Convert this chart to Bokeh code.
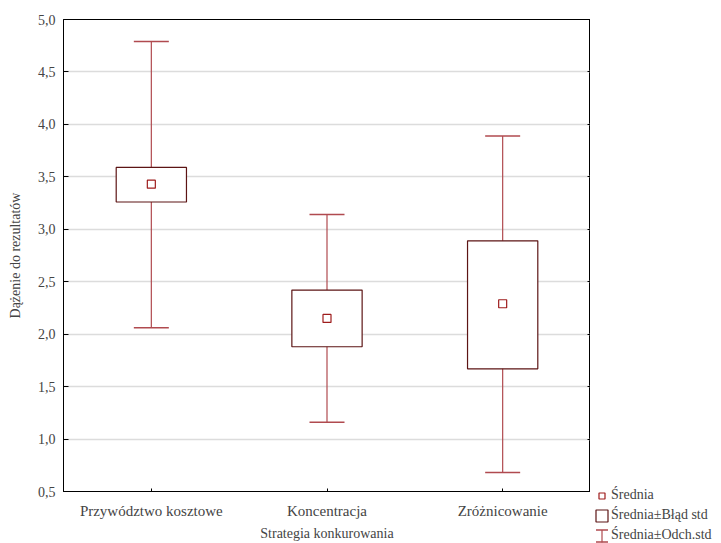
from bokeh.plotting import figure
from bokeh.layouts import row
from bokeh.models import (FactorRange, Range1d, FixedTicker, LinearAxis, Legend,
                          LegendItem, ColumnDataSource, Whisker, TeeHead,
                          CustomJSTickFormatter)
from bokeh.embed import file_html
from bokeh.resources import INLINE

categories = ["Przywództwo kosztowe", "Koncentracja", "Zróżnicowanie"]
means = [3.43, 2.15, 2.29]
se_low = [3.26, 1.88, 1.67]
se_high = [3.59, 2.42, 2.89]
sd_low = [2.06, 1.16, 0.68]
sd_high = [4.79, 3.14, 3.89]

y_ticks = [0.5, 1.0, 1.5, 2.0, 2.5, 3.0, 3.5, 4.0, 4.5, 5.0]
y_tick_labels = ["0,5", "1,0", "1,5", "2,0", "2,5", "3,0", "3,5", "4,0", "4,5", "5,0"]

legend_labels = ["Średnia", "Średnia±Błąd std", "Średnia±Odch.std"]

FONT = "Liberation Serif"
WHISK = "#b04a4f"
BOX = "#5c1414"
MEAN = "#9e1c1c"

src = ColumnDataSource(dict(cat=categories, mean=means, se_low=se_low, se_high=se_high,
                            sd_low=sd_low, sd_high=sd_high))

p = figure(width=590, height=543, x_range=FactorRange(*categories, range_padding=0),
           y_range=Range1d(0.5, 5.0), output_backend="svg", toolbar_location=None,
           min_border_left=63, min_border_right=0, min_border_top=19, min_border_bottom=51)
p.frame_align = False
p.outline_line_color = "black"
p.outline_line_width = 1
p.background_fill_color = "white"
p.border_fill_color = "white"

p.xgrid.grid_line_color = None
p.ygrid.grid_line_color = "#dcdcdc"
p.ygrid.grid_line_width = 1.5

p.yaxis.ticker = FixedTicker(ticks=y_ticks)
p.yaxis.major_label_overrides = dict(zip(y_ticks, y_tick_labels))
p.yaxis.minor_tick_line_color = None
p.yaxis.major_tick_in = 5
p.yaxis.major_tick_out = 0
p.yaxis.major_label_standoff = 8
p.yaxis.axis_label = "Dążenie do rezultatów"
p.yaxis.axis_label_standoff = 12
p.yaxis.axis_label_text_font = FONT
p.yaxis.axis_label_text_font_style = "normal"
p.yaxis.axis_label_text_font_size = "14px"
p.yaxis.major_label_text_font = FONT
p.yaxis.major_label_text_font_size = "14px"
p.yaxis.axis_line_color = "black"

p.xaxis.major_tick_in = 3
p.xaxis.major_tick_out = 0
p.xaxis.major_label_standoff = 11
p.xaxis.axis_label = "Strategia konkurowania"
p.xaxis.axis_label_standoff = 4
p.xaxis.axis_label_text_font = FONT
p.xaxis.axis_label_text_font_style = "normal"
p.xaxis.axis_label_text_font_size = "14px"
p.xaxis.major_label_text_font = FONT
p.xaxis.major_label_text_font_size = "15px"
p.xaxis.axis_line_color = "black"

ra = LinearAxis(ticker=FixedTicker(ticks=y_ticks),
                formatter=CustomJSTickFormatter(code="return ''"),
                major_tick_in=3, major_tick_out=0, minor_tick_line_color=None,
                major_label_standoff=0, axis_line_color="black")
p.add_layout(ra, "right")

wh = Whisker(base="cat", upper="sd_high", lower="sd_low", source=src,
             line_color=WHISK, line_width=1.2, level="underlay",
             upper_head=TeeHead(size=35, line_color=WHISK, line_width=1.5),
             lower_head=TeeHead(size=35, line_color=WHISK, line_width=1.5))
p.add_layout(wh)

box = p.vbar(x="cat", top="se_high", bottom="se_low", width=0.4, source=src,
             fill_color="white", line_color=BOX, line_width=1.2)
mean_r = p.scatter(x="cat", y="mean", source=src, marker="square", size=8,
                   fill_color="white", line_color=MEAN, line_width=1.2)

# legend panel: companion figure whose view range lies outside the data,
# so only the legend samples are visible
lg = figure(width=131, height=543, x_range=Range1d(10, 11), y_range=Range1d(10, 11),
            output_backend="svg", toolbar_location=None,
            x_axis_type=None, y_axis_type=None, min_border=0)
lg.frame_align = False
lg.outline_line_color = None
lg.grid.grid_line_color = None
lg_mean = lg.scatter(x="mean", y="mean", source=src, marker="square",
                     fill_color="white", line_color=MEAN, line_width=1.2)
lg_box = lg.vbar(x="mean", top="se_high", bottom="se_low", width=0.4, source=src,
                 fill_color="white", line_color=BOX, line_width=1.2)
# whisker sample: a very thin ellipse gives the vertical stem,
# a dashed outline showing only top & bottom edges gives the caps
lg_stem = lg.ellipse(x="mean", y="mean", width=0.0001, height=1, source=src,
                     fill_color=None, line_color=WHISK, line_width=1.2)
lg_caps = lg.vbar(x="mean", top="sd_high", bottom="sd_low", width=0.4, source=src,
                  fill_color=None, line_color=WHISK, line_width=1.5, line_dash="12 12")

legend = Legend(items=[LegendItem(label=legend_labels[0], renderers=[lg_mean]),
                       LegendItem(label=legend_labels[1], renderers=[lg_box]),
                       LegendItem(label=legend_labels[2], renderers=[lg_stem, lg_caps])],
                location=(4, 0), background_fill_alpha=0, border_line_color=None,
                label_text_font=FONT, label_text_font_size="14px",
                glyph_width=15, glyph_height=15, spacing=4, padding=0, margin=0,
                label_standoff=2, label_height=15)
lg.add_layout(legend, "center")

layout = row(p, lg, spacing=0)
open("out.html", "w").write(file_html(layout, INLINE))
